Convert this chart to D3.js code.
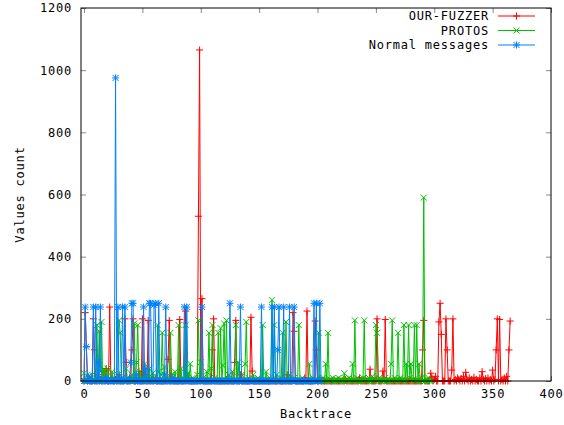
<!DOCTYPE html>
<html><head><meta charset="utf-8">
<script src="https://cdn.jsdelivr.net/npm/d3@7"></script>
<style>
body{margin:0;background:#fff}
text{font-family:"DejaVu Sans Mono","Liberation Mono",monospace;font-size:12px;letter-spacing:0.8px;fill:#000}
</style>
</head><body><svg id="c" width="564" height="425"></svg>
<script>
// ---- data (index = backtrace) ----
const seriesNames = ["OUR-FUZZER", "PROTOS", "Normal messages"];
const seriesColors = ["#ff0000", "#00c000", "#0080ff"];
const seriesMarkers = ["plus", "cross", "star"];

const ourFuzzer = [
0,220,110,0,10,0,0,0,200,100,
0,0,20,0,5,0,0,30,0,40,
0,0,238,0,10,0,0,5,0,0,
20,0,0,0,0,200,60,0,0,10,
0,100,200,0,0,10,0,32,0,0,
200,0,20,0,0,195,0,0,5,0,
0,10,0,0,0,0,0,0,0,0,
0,0,70,195,0,20,0,0,0,0,
0,0,198,0,0,0,0,225,0,10,
0,0,0,0,0,0,0,0,530,1065,
0,265,0,0,0,0,0,0,0,0,
100,200,0,0,0,0,0,0,0,0,
0,0,5,0,0,0,0,0,0,60,
195,0,0,0,20,0,0,0,0,0,
0,0,0,205,32,0,0,0,0,0,
0,0,0,0,0,0,0,0,0,0,
0,0,0,0,0,0,0,0,0,0,
0,0,0,0,20,0,0,0,0,220,
160,0,0,0,0,0,0,0,0,10,
0,225,0,0,0,0,0,0,193,100,
0,0,10,0,0,0,0,0,0,0,
0,0,0,0,0,0,0,0,0,0,
0,0,0,0,5,0,0,0,0,0,
0,0,0,0,0,0,10,0,0,0,
0,0,0,0,0,38,0,0,0,0,
0,200,0,0,0,0,32,0,198,0,
0,0,0,0,0,0,0,0,0,0,
0,0,0,0,0,0,0,0,0,0,
0,0,0,0,0,0,0,0,0,0,
100,195,0,0,0,0,0,25,10,0,
5,15,0,0,190,250,150,0,0,0,
200,100,0,0,0,35,200,0,5,0,
10,5,0,8,0,15,0,28,5,0,
10,0,5,0,12,0,5,0,0,10,
0,30,5,0,8,0,10,0,5,0,
35,0,5,100,200,0,198,0,5,0,
10,0,15,0,100,193
];

const protos = [
25,0,5,0,10,0,0,20,0,5,
0,180,0,160,30,190,0,35,0,15,
40,0,10,0,30,0,5,0,0,20,
195,155,0,10,0,0,40,0,5,0,
0,20,0,185,0,60,180,0,30,0,
10,0,55,0,20,0,40,0,0,25,
0,10,0,180,30,0,20,155,0,45,
0,10,0,0,155,20,0,0,30,0,
0,180,0,40,0,10,0,180,0,25,
0,55,0,10,0,0,0,20,195,0,
60,0,10,0,0,30,0,155,0,40,
180,0,10,0,0,155,0,170,0,50,
185,0,195,0,20,0,0,30,0,0,
180,0,60,0,0,20,0,0,55,190,
0,10,0,0,0,20,0,0,0,10,
0,0,0,180,0,0,30,0,0,10,
0,260,0,180,0,20,0,0,0,10,
155,0,0,190,0,0,20,0,0,0,
10,0,0,0,180,0,0,10,0,0,
0,0,0,55,0,0,10,0,0,0,
0,155,0,5,0,10,0,55,0,155,
0,5,0,10,0,0,5,0,10,0,
5,0,0,25,0,5,0,10,0,5,
55,0,195,0,10,0,5,0,0,10,
195,0,5,0,10,0,0,15,0,5,
180,155,0,10,0,5,0,0,10,0,
5,0,0,55,195,0,10,0,5,155,
0,10,0,5,180,0,55,0,180,10,
55,0,5,180,0,180,0,55,0,10,
0,590,0,5,0,10,0,0
];

const normalMessages = [
0,238,110,0,15,0,0,0,238,0,
238,0,60,0,238,0,5,0,0,10,
0,0,0,5,0,0,0,975,0,238,
0,0,10,238,0,238,0,0,5,0,
60,250,250,0,0,20,0,0,0,0,
0,238,0,40,0,0,250,250,0,0,
245,250,0,0,250,0,0,0,0,20,
238,0,0,0,0,0,10,0,0,0,
0,0,0,0,0,0,238,0,238,0,
0,0,0,0,0,0,0,0,0,0,
0,238,0,0,0,0,0,0,0,0,
0,0,0,0,0,0,0,0,0,0,
0,0,0,0,0,250,0,0,0,0,
0,0,0,0,238,0,0,0,0,0,
0,0,0,0,0,0,0,0,0,0,
0,0,238,0,0,0,0,0,0,0,
0,238,0,238,0,0,100,238,0,0,
0,238,0,0,0,0,238,0,0,0,
238,0,0,0,0,0,0,0,0,0,
0,0,0,0,0,0,0,250,0,250,
0,0,250,0
];

const xTicks = [0, 50, 100, 150, 200, 250, 300, 350, 400];
const yTicks = [0, 200, 400, 600, 800, 1000, 1200];
const xTitle = "Backtrace";
const yTitle = "Values count";

// ---- layout ----
const L = 81, R = 551, T = 8, B = 381;
const svg = d3.select("#c");
const x = d3.scaleLinear().domain([-2.6, 400]).range([L, R]);
const y = d3.scaleLinear().domain([0, 1200]).range([B, T]);
const fmt = d3.format("d");

// ticks (inward, mirrored)
const tickColor = "#888";
function styleAxis(g, showText) {
  g.select(".domain").remove();
  g.selectAll(".tick line").attr("stroke", tickColor);
  g.selectAll(".tick text").attr("fill", "#000").attr("font-size", null).attr("font-family", null);
  if (!showText) g.selectAll(".tick text").remove();
}
svg.append("g").attr("transform", `translate(0,${B})`)
  .call(d3.axisBottom(x).tickValues(xTicks).tickFormat(fmt).tickSizeInner(-5).tickSizeOuter(0).tickPadding(8))
  .call(g => styleAxis(g, true));
svg.append("g").attr("transform", `translate(0,${T})`)
  .call(d3.axisTop(x).tickValues(xTicks).tickSizeInner(-5).tickSizeOuter(0))
  .call(g => styleAxis(g, false));
svg.append("g").attr("transform", `translate(${L},0)`)
  .call(d3.axisLeft(y).tickValues(yTicks).tickFormat(fmt).tickSizeInner(-5).tickSizeOuter(0).tickPadding(9))
  .call(g => styleAxis(g, true));
svg.append("g").attr("transform", `translate(${R},0)`)
  .call(d3.axisRight(y).tickValues(yTicks).tickSizeInner(-5).tickSizeOuter(0))
  .call(g => styleAxis(g, false));

// markers
function markerPath(kind, cx, cy) {
  const s = 3.5, d = 3;
  if (kind === "plus") return `M${cx-s},${cy}H${cx+s}M${cx},${cy-s}V${cy+s}`;
  if (kind === "cross") return `M${cx-d},${cy-d}L${cx+d},${cy+d}M${cx-d},${cy+d}L${cx+d},${cy-d}`;
  return `M${cx-s},${cy}H${cx+s}M${cx},${cy-s}V${cy+s}M${cx-d},${cy-d}L${cx+d},${cy+d}M${cx-d},${cy+d}L${cx+d},${cy-d}`;
}

const allSeries = [ourFuzzer, protos, normalMessages];
const line = d3.line().x((d, i) => x(i)).y(d => y(d));
const plot = svg.append("g");
allSeries.forEach((vals, k) => {
  const g = plot.append("g");
  g.append("path").attr("d", line(vals)).attr("fill", "none")
    .attr("stroke", seriesColors[k]).attr("stroke-width", 1);
  g.append("path").attr("d", vals.map((v, i) => markerPath(seriesMarkers[k], x(i), y(v))).join(""))
    .attr("fill", "none").attr("stroke", seriesColors[k]).attr("stroke-width", 1);
});

// border on top
svg.append("rect").attr("x", L).attr("y", T).attr("width", R - L).attr("height", B - T)
  .attr("fill", "none").attr("stroke", "#000").attr("stroke-width", 1);

// legend
const leg = svg.append("g");
seriesNames.forEach((name, k) => {
  const cy = 16 + k * 14.5;
  leg.append("text").attr("x", 489).attr("y", cy).attr("dy", "0.35em")
    .attr("text-anchor", "end").text(name);
  leg.append("line").attr("x1", 498).attr("x2", 535).attr("y1", cy).attr("y2", cy)
    .attr("stroke", seriesColors[k]).attr("stroke-width", 1);
  leg.append("path").attr("d", markerPath(seriesMarkers[k], 516.5, cy))
    .attr("fill", "none").attr("stroke", seriesColors[k]);
});

// titles
svg.append("text").attr("x", (L + R) / 2).attr("y", 414).attr("dy", "0.35em")
  .attr("text-anchor", "middle").text(xTitle);
svg.append("text").attr("transform", `translate(20,${(T + B) / 2}) rotate(-90)`)
  .attr("dy", "0.35em").attr("text-anchor", "middle").text(yTitle);
</script>
</body></html>
